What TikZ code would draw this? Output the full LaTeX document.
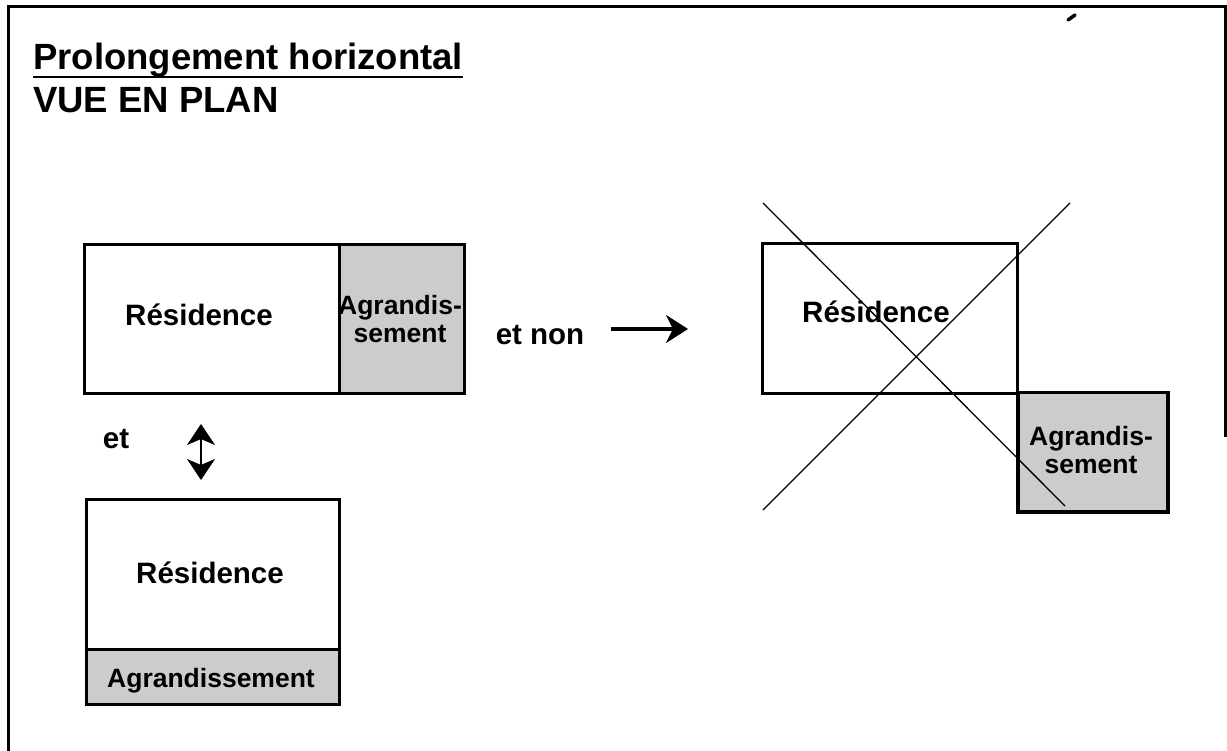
\documentclass[tikz,border=0pt]{standalone}
\usepackage{fontspec}
\setmainfont{Liberation Sans}
\usetikzlibrary{arrows.meta}
\begin{document}
\begin{tikzpicture}[x=1pt,y=-1pt,
  box/.style={draw, line width=3pt, rectangle, inner sep=0pt, anchor=north west},
  extbox/.style={box, fill=black!20},
  lbl/.style={inner sep=0pt, anchor=base, font=\bfseries\fontsize{29.5}{31}\selectfont},
  slbl/.style={inner sep=0pt, anchor=base, font=\bfseries\fontsize{26.5}{28}\selectfont},
  ttl/.style={inner sep=0pt, anchor=base west, font=\bfseries\fontsize{36.5}{40}\selectfont},
  cross/.style={line width=1.3pt},
  arr/.style={line width=3.6pt, -{Stealth[length=22pt, width=28pt, inset=7pt]}},
  darr/.style={line width=2.5pt, {Stealth[length=21pt, width=28pt, inset=6pt]}-{Stealth[length=21pt, width=28pt, inset=6pt]}},
]
\useasboundingbox (0,0) rectangle (1227,751);
% frame
\draw[line width=3pt] (8,752) -- (8,7) -- (1225,7) -- (1225,437);
\draw[line width=3.5pt, line cap=round] (1068,20) -- (1075,15);

% title
\node[ttl] (title) at (33,70) {Prolongement horizontal};
\draw[line width=2.5pt] ([yshift=-7pt]title.base west) -- ([yshift=-7pt]title.base east);
\node[ttl] (sub) at (33,113) {VUE EN PLAN};

% top-left composition
\node[box, minimum width=255pt, minimum height=149pt] (res1) at (83,243) {};
\node[extbox, minimum width=125pt, minimum height=149pt] (ext1) at (338,243) {};
\node[lbl] (res1t) at (199,326) {Résidence};
\node[slbl] (ext1a) at (400,315) {Agrandis-};
\node[slbl] (ext1b) at (400,343) {sement};

% et non arrow
\node[lbl] (etnon) at (540,345) {et non};
\coordinate (arrS) at (611,329);
\coordinate (arrE) at (688,329);
\draw[arr] (arrS) -- (arrE);

% et + double arrow
\node[lbl] (et) at (116,448) {et};
\coordinate (dTop) at (201,424);
\coordinate (dBot) at (201,480);
\draw[darr] (dTop) -- (dBot);

% bottom-left composition
\node[box, minimum width=253pt, minimum height=150pt] (res2) at (85,498) {};
\node[extbox, minimum width=253pt, minimum height=55pt] (ext2) at (85,648) {};
\node[lbl] (res2t) at (210,583) {Résidence};
\node[slbl] (ext2t) at (211,687) {Agrandissement};

% right composition (crossed out)
\node[box, minimum width=255pt, minimum height=150pt] (res3) at (761,242) {};
\node[extbox, line width=3.5pt, minimum width=150pt, minimum height=119pt] (ext3) at (1016,391) {};
\node[lbl] (res3t) at (876,323) {Résidence};
\node[slbl] (ext3a) at (1091,445) {Agrandis-};
\node[slbl] (ext3b) at (1091,473) {sement};
\coordinate (c1a) at (763,203);
\coordinate (c1b) at (1065,506);
\coordinate (c2a) at (763,510);
\coordinate (c2b) at (1070,203);
\draw[cross] (c1a) -- (c1b);
\draw[cross] (c2a) -- (c2b);
\end{tikzpicture}
\end{document}
